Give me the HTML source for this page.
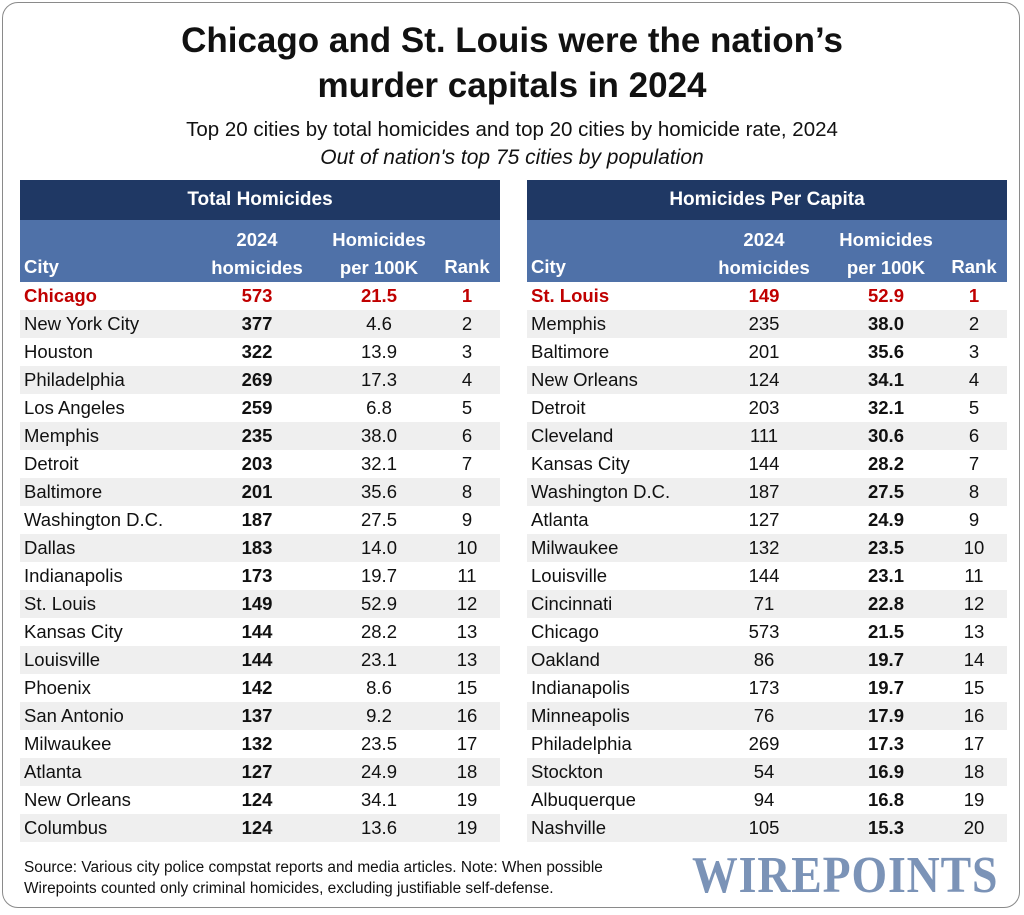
<!DOCTYPE html>
<html><head><meta charset="utf-8"><style>
body{margin:0;width:1024px;height:915px;background:#fff;font-family:"Liberation Sans",sans-serif;position:relative;overflow:hidden}
.frame{position:absolute;left:2px;top:2px;width:1016px;height:904px;border:1.5px solid #8a8a8a;border-radius:16px}
h1{position:absolute;left:0;width:1024px;top:18px;margin:0;text-align:center;font-size:35px;line-height:45px;font-weight:bold;color:#111}
.sub{position:absolute;left:0;width:1024px;top:118px;text-align:center;font-size:20.5px;color:#111}
.sub2{position:absolute;left:0;width:1024px;top:146px;text-align:center;font-size:21px;font-style:italic;color:#111}
.tbl{position:absolute;top:180px;width:480px}
.t1{left:20px}.t2{left:527px}
.hd{height:40px;background:#1f3864;color:#fff;font-weight:bold;font-size:19px;text-align:center;line-height:40px}
.sh{height:62px;background:#4f71a8;color:#fff;font-weight:bold;font-size:18.5px;position:relative}
.sh div{position:absolute;text-align:center;line-height:28px}
.row{height:28px;position:relative;font-size:18.5px;color:#111}
.row.g{background:#efefef}
.row span{position:absolute;top:0;line-height:28px}
.row.red{color:#c00000;font-weight:bold}
.c{left:4px}
.n{width:80px;text-align:center}
.b{font-weight:bold}
.src{position:absolute;left:24px;top:857px;font-size:15.4px;line-height:21px;color:#111}
.logo{position:absolute;left:692px;top:846px;font-family:"Liberation Serif",serif;font-weight:bold;font-size:52px;color:#7b93b7;letter-spacing:1px;transform:scaleX(0.88);transform-origin:left top;white-space:nowrap}
</style></head><body>
<div class="frame"></div>
<h1>Chicago and St. Louis were the nation’s<br>murder capitals in 2024</h1>
<div class="sub">Top 20 cities by total homicides and top 20 cities by homicide rate, 2024</div>
<div class="sub2">Out of nation's top 75 cities by population</div>
<div class="tbl t1" id="t1"></div>
<div class="tbl t2" id="t2"></div>
<div class="src">Source: Various city police compstat reports and media articles. Note: When possible<br>Wirepoints counted only criminal homicides, excluding justifiable self-defense.</div>
<div class="logo">WIREPOINTS</div>
<script>
const cities1=["Chicago","New York City","Houston","Philadelphia","Los Angeles","Memphis","Detroit","Baltimore","Washington D.C.","Dallas","Indianapolis","St. Louis","Kansas City","Louisville","Phoenix","San Antonio","Milwaukee","Atlanta","New Orleans","Columbus"];
const homicides1=[573,377,322,269,259,235,203,201,187,183,173,149,144,144,142,137,132,127,124,124];
const rates1=["21.5","4.6","13.9","17.3","6.8","38.0","32.1","35.6","27.5","14.0","19.7","52.9","28.2","23.1","8.6","9.2","23.5","24.9","34.1","13.6"];
const ranks1=[1,2,3,4,5,6,7,8,9,10,11,12,13,13,15,16,17,18,19,19];
const cities2=["St. Louis","Memphis","Baltimore","New Orleans","Detroit","Cleveland","Kansas City","Washington D.C.","Atlanta","Milwaukee","Louisville","Cincinnati","Chicago","Oakland","Indianapolis","Minneapolis","Philadelphia","Stockton","Albuquerque","Nashville"];
const homicides2=[149,235,201,124,203,111,144,187,127,132,144,71,573,86,173,76,269,54,94,105];
const rates2=["52.9","38.0","35.6","34.1","32.1","30.6","28.2","27.5","24.9","23.5","23.1","22.8","21.5","19.7","19.7","17.9","17.3","16.9","16.8","15.3"];
const ranks2=[1,2,3,4,5,6,7,8,9,10,11,12,13,14,15,16,17,18,19,20];
function build(id,title,cities,hom,rates,ranks,boldCol){
  const t=document.getElementById(id);
  const hd=document.createElement('div');hd.className='hd';hd.textContent=title;
  
  
  t.appendChild(hd);
  const sh=document.createElement('div');sh.className='sh';
  
  
  sh.innerHTML='<div style="left:4px;top:33px">City</div><div style="left:172px;width:130px;top:6px">2024<br>homicides</div><div style="left:294px;width:130px;top:6px">Homicides<br>per 100K</div><div style="left:417px;width:60px;top:33px">Rank</div>';
  t.appendChild(sh);
  cities.forEach((c,i)=>{
    const r=document.createElement('div');
    r.className='row'+(i%2?' g':'')+(i===0?' red':'');
    
    
    r.innerHTML='<span class="c">'+c+'</span><span class="n'+(boldCol===1?' b':'')+'" style="left:197px">'+hom[i]+'</span><span class="n'+(boldCol===2?' b':'')+'" style="left:319px">'+rates[i]+'</span><span class="n" style="left:407px">'+ranks[i]+'</span>';
    t.appendChild(r);
  });
}
build('t1','Total Homicides',cities1,homicides1,rates1,ranks1,1);
build('t2','Homicides Per Capita',cities2,homicides2,rates2,ranks2,2);
</script>
</body></html>
